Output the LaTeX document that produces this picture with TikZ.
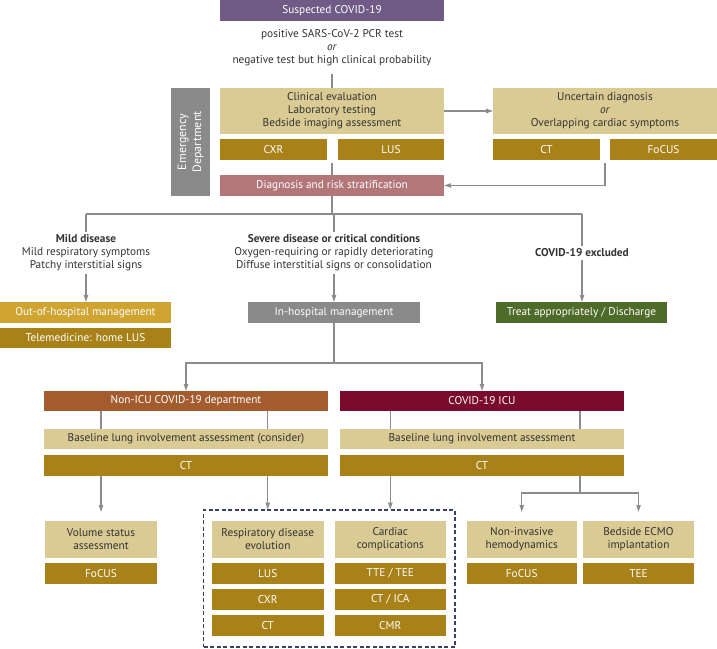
\documentclass[tikz,border=0pt]{standalone}
\usepackage{fontspec}
\setmainfont{PT Sans}
\usetikzlibrary{arrows.meta}
\definecolor{cpurple}{HTML}{705B86}
\definecolor{ctan}{HTML}{DACA93}
\definecolor{cgold}{HTML}{A88118}
\definecolor{crose}{HTML}{B3777A}
\definecolor{cmust}{HTML}{CFA431}
\definecolor{cgray}{HTML}{8A8A8A}
\definecolor{cgreen}{HTML}{4E6B2A}
\definecolor{cbrown}{HTML}{A45C2E}
\definecolor{cicu}{HTML}{7B0B2C}
\definecolor{cnavy}{HTML}{3B3F6B}
\definecolor{cline}{HTML}{8C8C8C}
\definecolor{ctext}{HTML}{333333}
\begin{document}
\begin{tikzpicture}[x=1pt,y=-1pt,
  box/.style={inner sep=0pt, outer sep=0pt, align=center, font=\fontsize{11.3}{13}\selectfont},
  sz/.style 2 args={minimum width=#1, minimum height=#2},
  hdr/.style={box, text=white, fill=#1},
  lite/.style={box, text=ctext, fill=ctan},
  dark/.style={box, text=white, fill=cgold},
  lbl/.style={align=center, inner sep=3pt, text=ctext, font=\fontsize{11.3}{13}\selectfont},
  ln/.style={draw=cline, line width=1.1pt},
  arr/.style={ln, -{Stealth[length=7pt,width=4.5pt,inset=0.5pt]}},
  dashbox/.style={draw=cnavy, line width=1.1pt, dash pattern=on 4pt off 2.5pt, inner sep=0pt}
]
\useasboundingbox (0,0) rectangle (717,648);

% top
\node[hdr=cpurple, sz={224}{21}] (susp) at (332,10.5) {Suspected COVID-19};
\node[lbl] (crit) at (332,48) {positive SARS-CoV-2 PCR test\\\textit{or}\\negative test but high clinical probability};
\node[lite, sz={224}{46}] (clin) at (332,111) {Clinical evaluation\\Laboratory testing\\Bedside imaging assessment};
\node[dark, sz={107}{21}] (cxr1) at (273.5,149.5) {CXR};
\node[dark, sz={106}{21}] (lus1) at (391,149.5) {LUS};
\node[hdr=crose, sz={224}{21}] (diag) at (332,185.5) {Diagnosis and risk stratification};
\node[hdr=cgray, sz={108}{39}, rotate=90, font=\fontsize{12}{15}\selectfont] (ed) at (190.5,142) {Emergency\\Department};
\node[lite, sz={224}{46}] (unc) at (605,111) {Uncertain diagnosis\\\textit{or}\\Overlapping cardiac symptoms};
\node[dark, sz={107}{21}] (ct1) at (546.5,149.5) {CT};
\node[dark, sz={107}{21}] (focus1) at (663.5,149.5) {FoCUS};

\coordinate (t1) at (332,74);
\coordinate (t2) at (332,163);
\coordinate (t3) at (605,163);
\draw[ln] (t1) -- (clin.north);
\draw[arr] (clin.east) -- (unc.west);
\draw[ln] (t2) -- (diag.north);
\draw[arr] (t3) |- (diag.east);

% triage
\coordinate (hz) at (332,214);
\node[lbl] (mild) at (86,253) {\textbf{Mild disease}\\Mild respiratory symptoms\\Patchy interstitial signs};
\node[lbl] (sev) at (334,253) {\textbf{Severe disease or critical conditions}\\Oxygen-requiring or rapidly deteriorating\\Diffuse interstitial signs or consolidation};
\node[lbl] (excl) at (582,253) {\textbf{COVID-19 excluded}};
\draw[ln] (diag.south) -- (hz);
\draw[ln] (hz -| mild.north) -- (hz -| excl.north);
\draw[ln] (hz -| mild.north) -- (mild.north);
\draw[ln] (hz -| sev.north) -- (sev.north);
\draw[ln] (hz -| excl.north) -- (excl.north);

\node[hdr=cmust, sz={171}{21}] (ooh) at (85.5,312.5) {Out-of-hospital management};
\node[dark, sz={171}{20}] (tele) at (85.5,338) {Telemedicine: home LUS};
\node[hdr=cgray, sz={172}{21}] (inh) at (334,312.5) {In-hospital management};
\node[hdr=cgreen, sz={171}{21}] (treat) at (581.5,312.5) {Treat appropriately / Discharge};
\draw[arr] (mild.south) -- (mild.south |- ooh.north);
\draw[arr] (sev.south) -- (sev.south |- inh.north);
\draw[arr] (excl.south) -- (excl.south |- treat.north);

% wards
\node[hdr=cbrown, sz={284}{20}] (nonicu) at (186,401) {Non-ICU COVID-19 department};
\node[hdr=cicu, sz={284}{20}] (icu) at (482,401) {COVID-19 ICU};
\node[lite, sz={284}{20}] (base1) at (186,439) {Baseline lung involvement assessment (consider)};
\node[lite, sz={284}{20}] (base2) at (482,439) {Baseline lung involvement assessment};
\node[dark, sz={284}{21}] (ct2) at (186,465.5) {CT};
\node[dark, sz={284}{21}] (ct3) at (482,465.5) {CT};
\coordinate (j2) at (334,363);
\draw[ln] (inh.south) -- (j2);
\draw[arr] (j2) -| (nonicu.north);
\draw[arr] (j2) -| (icu.north);

% bottom
\node[lite, sz={112}{37}] (vol) at (101,539.5) {Volume status\\assessment};
\node[dark, sz={112}{21}] (focus2) at (101,573.5) {FoCUS};
\node[dashbox, sz={251.4}{137}] (dash) at (329.3,578.5) {};
\node[lite, sz={111.5}{37}] (resp) at (267.75,539.5) {Respiratory disease\\evolution};
\node[dark, sz={111.5}{21}] (lus2) at (267.75,573.5) {LUS};
\node[dark, sz={111.5}{21}] (cxr2) at (267.75,599.5) {CXR};
\node[dark, sz={111.5}{21}] (ct4) at (267.75,625.5) {CT};
\node[lite, sz={111.5}{37}] (card) at (390.3,539.5) {Cardiac\\complications};
\node[dark, sz={111.5}{21}] (tte) at (390.3,573.5) {TTE / TEE};
\node[dark, sz={111.5}{21}] (ctica) at (390.3,599.5) {CT / ICA};
\node[dark, sz={111.5}{21}] (cmr) at (390.3,625.5) {CMR};
\node[lite, sz={110.5}{37}] (noninv) at (521.75,539.5) {Non-invasive\\hemodynamics};
\node[dark, sz={110.5}{21}] (focus3) at (521.75,573.5) {FoCUS};
\node[lite, sz={111}{37}] (ecmo) at (638.5,539.5) {Bedside ECMO\\implantation};
\node[dark, sz={111}{21}] (tee) at (638.5,573.5) {TEE};

\coordinate (fk) at (580,493);
\draw[ln] (nonicu.south -| vol.north) -- (base1.north -| vol.north);
\draw[ln] (nonicu.south -| resp.north) -- (base1.north -| resp.north);
\draw[ln] (icu.south -| card.north) -- (base2.north -| card.north);
\draw[ln] (icu.south -| fk) -- (base2.north -| fk);
\draw[arr, shorten >=9pt] (ct2.south -| vol.north) -- (vol.north);
\draw[arr] (ct2.south -| resp.north) -- (dash.north -| resp.north);
\draw[arr] (ct3.south -| card.north) -- (dash.north -| card.north);
\draw[ln] (ct3.south -| fk) -- (fk);
\draw[arr, shorten >=9pt] (fk) -| (noninv.north);
\draw[arr, shorten >=9pt] (fk) -| (ecmo.north);
\end{tikzpicture}
\end{document}
